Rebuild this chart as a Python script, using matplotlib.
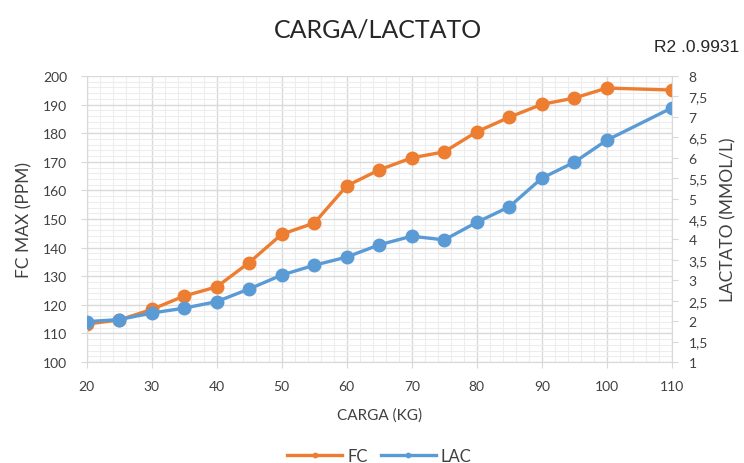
import matplotlib.pyplot as plt
from matplotlib.ticker import MultipleLocator
plt.switch_backend("agg")

plt.rcParams['font.family'] = ['Lato', 'DejaVu Sans']

# datos
carga = [20, 25, 30, 35, 40, 45, 50, 55, 60, 65, 70, 75, 80, 85, 90, 95, 100, 110]
fc = [113.3, 114.7, 118.4, 123.1, 126.3, 134.8, 144.7, 148.6, 161.6, 167.2,
      171.4, 173.5, 180.5, 185.6, 190.1, 192.3, 195.8, 195.1]
lac = [1.99, 2.04, 2.2, 2.32, 2.48, 2.79, 3.13, 3.37, 3.57, 3.87,
       4.08, 3.99, 4.42, 4.8, 5.5, 5.89, 6.43, 7.22]
x_ticks = [20, 30, 40, 50, 60, 70, 80, 90, 100, 110]
r2_text = "R2 .0.9931"

naranja = '#ED7D31'
azul = '#5B9BD5'
gris = '#D9D9D9'
texto = '#404040'

fig = plt.figure(figsize=(7.44, 4.64), dpi=100)
ax = fig.add_axes([0.1165, 0.2175, 0.7865, 0.6165])
ax2 = ax.twinx()

ax.plot(carga, fc, color=naranja, linewidth=2.4, marker='o', markersize=9, label="FC")
ax2.plot(carga, lac, color=azul, linewidth=2.4, marker='o', markersize=9, label="LAC")

ax.set_xlim(20, 110)
ax.set_ylim(100, 200)
ax2.set_ylim(1, 8)
ax.set_xticks(x_ticks)
ax.yaxis.set_major_locator(MultipleLocator(10))
ax.xaxis.set_minor_locator(MultipleLocator(2))
ax.yaxis.set_minor_locator(MultipleLocator(2))
ax2.yaxis.set_major_locator(MultipleLocator(0.5))
ax2.set_yticklabels([("%g" % v).replace('.', ',') for v in ax2.get_yticks()])

# rejilla
ax.grid(True, which='major', color=gris, linewidth=1.0)
ax.grid(True, which='minor', color='#EDEDED', linewidth=0.8)
ax.set_axisbelow(True)

for a in (ax, ax2):
    for s in a.spines.values():
        s.set_visible(False)
    a.tick_params(which='major', length=4, color=gris, labelsize=10, labelcolor=texto)
    a.tick_params(which='minor', length=0)
ax.tick_params(axis='y', pad=10)
ax.tick_params(axis='x', pad=9)
ax2.tick_params(axis='y', pad=8)
ax.spines['bottom'].set_visible(True)
ax.spines['bottom'].set_color(gris)
ax.spines['left'].set_visible(True)
ax.spines['left'].set_color(gris)
ax2.spines['right'].set_visible(True)
ax2.spines['right'].set_color(gris)

ax.set_xlabel("CARGA (KG)", fontsize=11, color=texto, labelpad=11)
ax.set_ylabel("FC MAX (PPM)", fontsize=12.5, color=texto, labelpad=7.5)
ax2.set_ylabel("LACTATO (MMOL/L)", fontsize=12.5, color=texto, labelpad=9)

fig.text(0.508, 0.935, "CARGA/LACTATO", ha='center', va='center', fontsize=18, color='#262626')
fig.text(0.993, 0.897, r2_text, ha='right', va='center', fontsize=12.5, color='#262626',
         family=['Liberation Sans', 'DejaVu Sans'])

h1, l1 = ax.get_legend_handles_labels()
h2, l2 = ax2.get_legend_handles_labels()
fig.legend(h1 + h2, l1 + l2, loc='center', bbox_to_anchor=(0.51, 0.016), ncol=2,
           frameon=False, fontsize=12, markerscale=0.35, handlelength=3.3,
           columnspacing=0.8, handletextpad=0.3, labelcolor=texto)

plt.savefig("out.png")
